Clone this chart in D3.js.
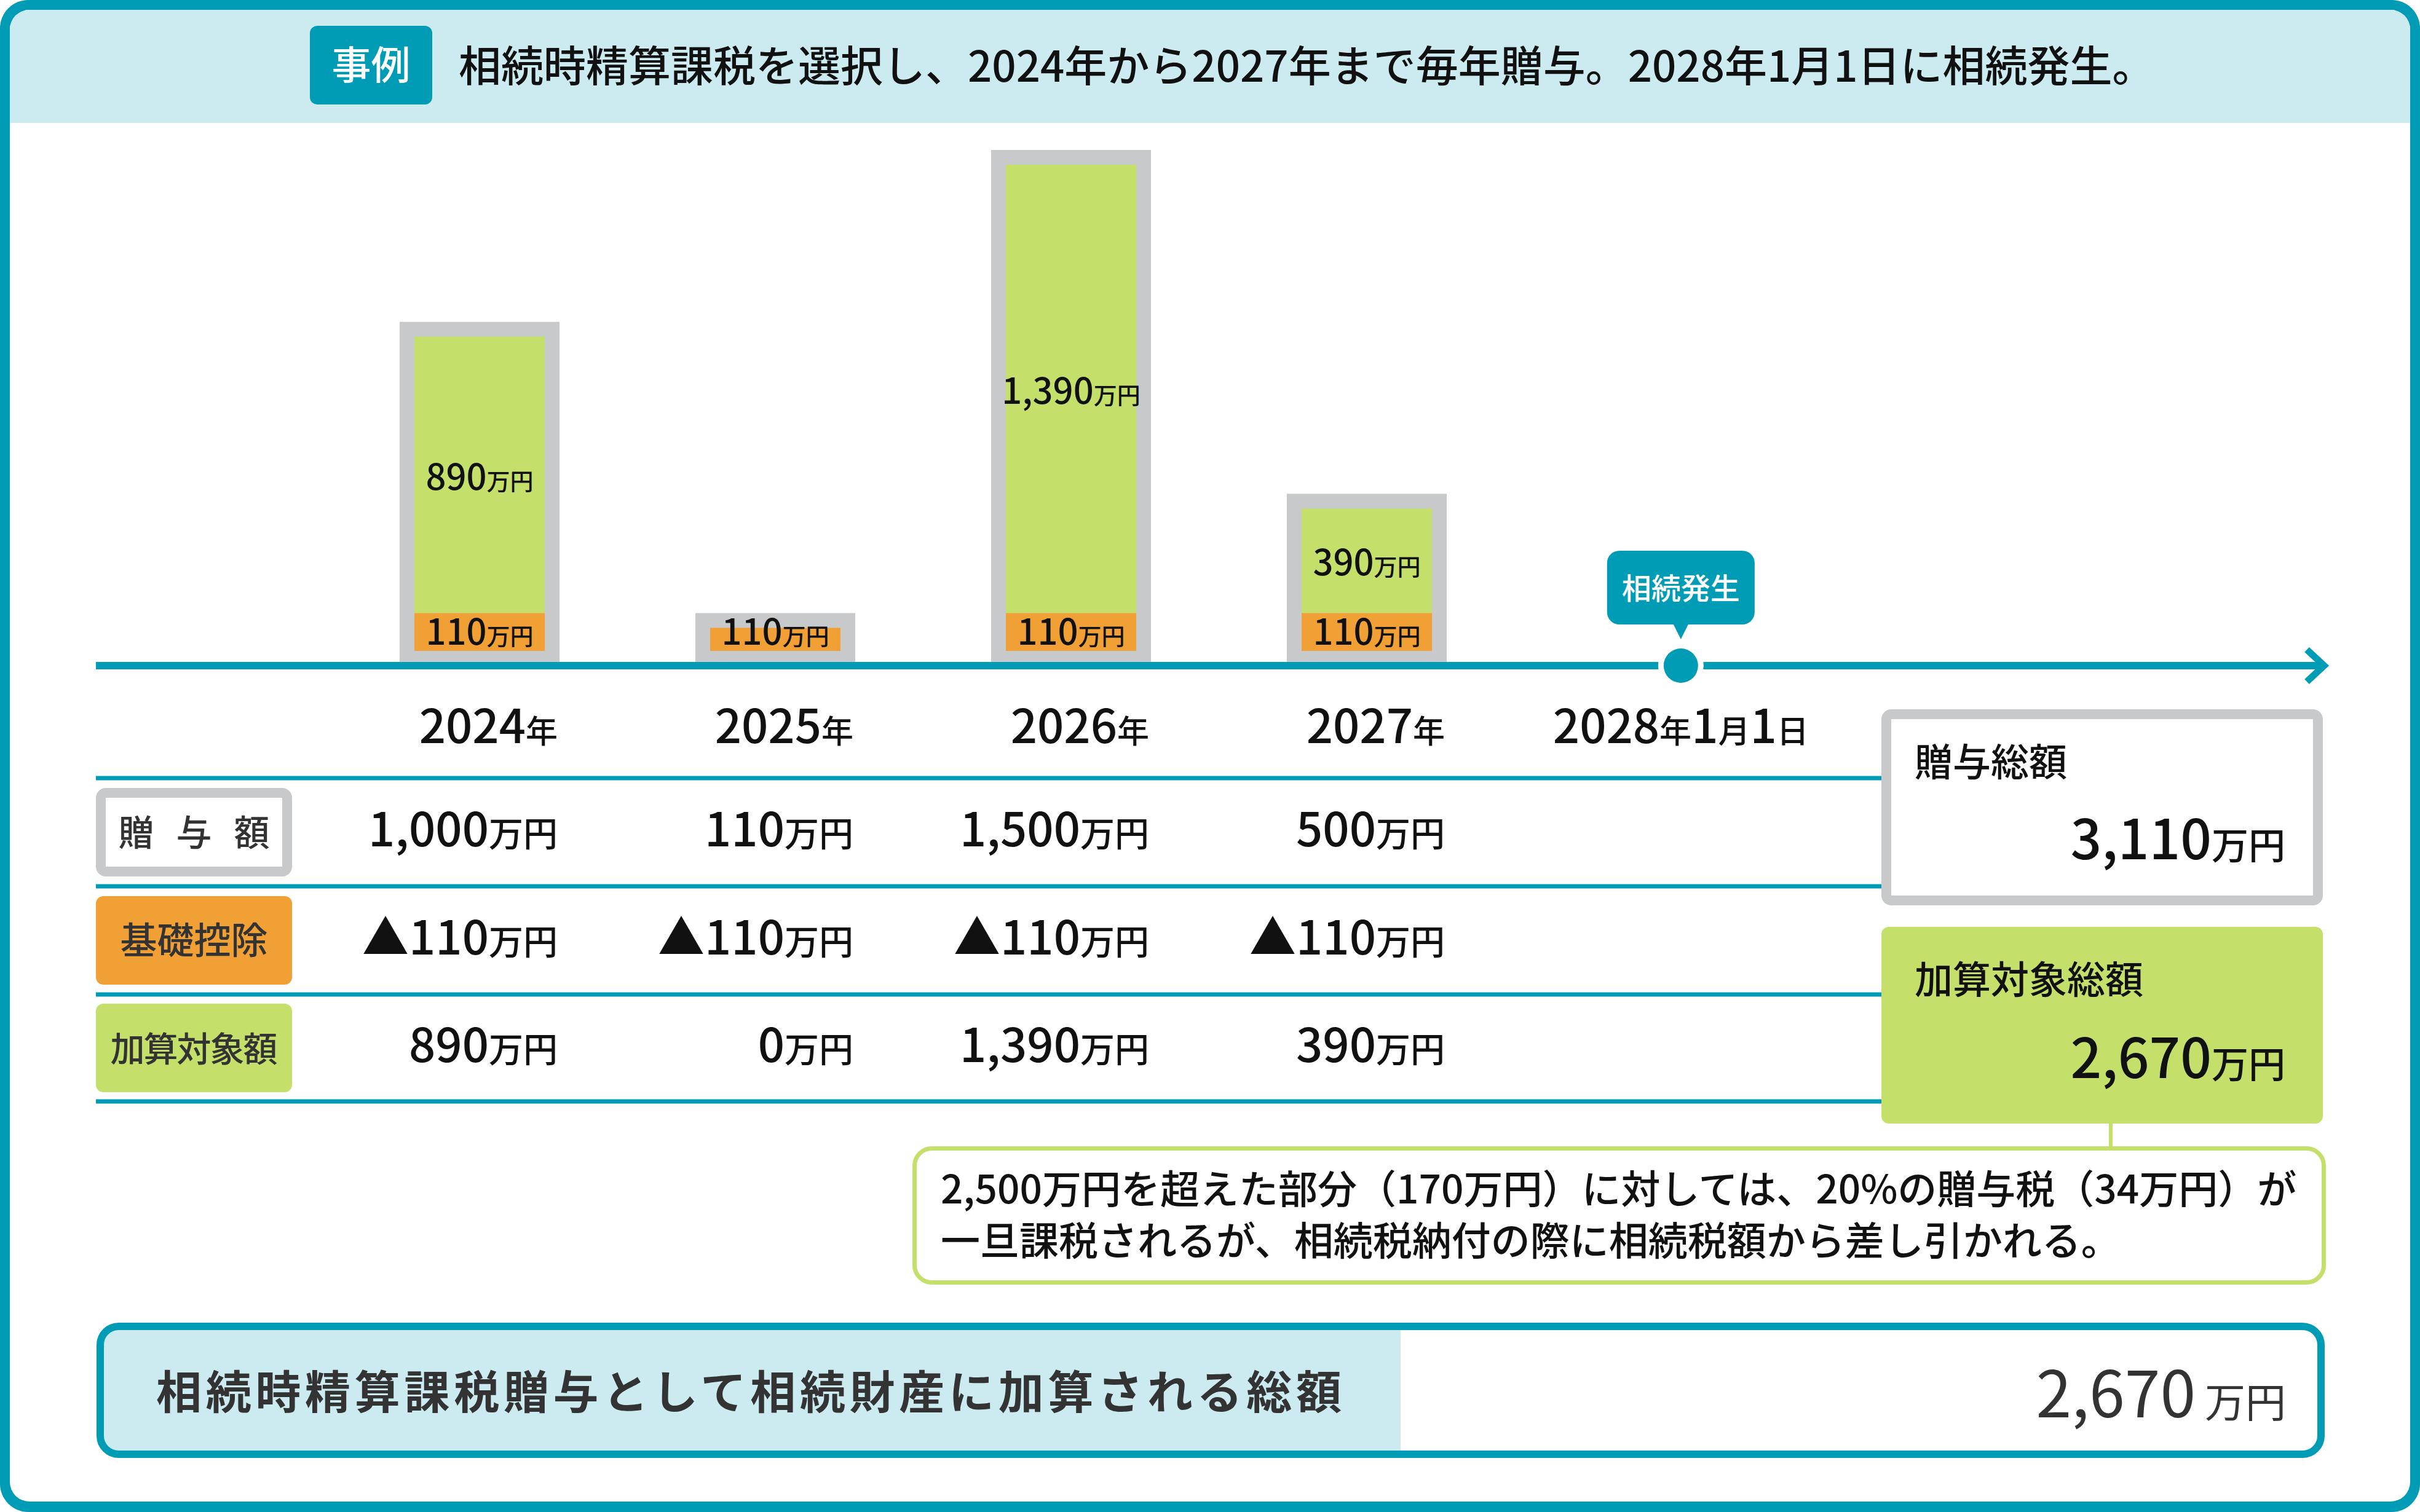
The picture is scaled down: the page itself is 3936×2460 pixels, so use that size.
<!DOCTYPE html>
<html><head><meta charset="utf-8">
<script src="https://cdn.jsdelivr.net/npm/d3@7"></script>
<style>html,body{margin:0;padding:0;background:#fff;} svg{display:block;}</style>
</head><body>
<script>
// ---- data ----
const yearKeys = ["2024", "2025", "2026", "2027"];
const yearSuffix = "年";
const giftAmounts = [1000, 110, 1500, 500];
const basicDeduction = [110, 110, 110, 110];
const addedAmounts = [890, 0, 1390, 390];
const eventLabel = "2028年1月1日";
const eventBadge = "相続発生";
const rowLabels = ["贈与額", "基礎控除", "加算対象額"];
const titleBadge = "事例";
const titleText = "相続時精算課税を選択し、2024年から2027年まで毎年贈与。2028年1月1日に相続発生。";
const summaryLabels = ["贈与総額", "加算対象総額"];
const noteLines = [
  "2,500万円を超えた部分（170万円）に対しては、20%の贈与税（34万円）が",
  "一旦課税されるが、相続税納付の際に相続税額から差し引かれる。"
];
const bottomLabel = "相続時精算課税贈与として相続財産に加算される総額";
const unit = "万円";

// ---- style ----
const W = 3936, H = 2460;
const C = {teal: "#009bb5", light: "#cbebf0", gray: "#c8c9ca", green: "#c4e06a",
           orange: "#f1a035", dark: "#333333", black: "#111111"};
const FONT = "'Noto Sans CJK JP','Noto Sans JP','Noto Sans',sans-serif";
const fmt = d3.format(",");

const svg = d3.select("body").append("svg").attr("width", W).attr("height", H)
  .style("font-family", FONT);
const defs = svg.append("defs");

// rich text: digits/commas/▲ big, others small
function rich(g, x, y, str, big, small, opts = {}) {
  const t = g.append("text").attr("x", x).attr("y", y)
    .attr("text-anchor", opts.anchor || "start")
    .attr("fill", opts.fill || C.black)
    .attr("font-weight", opts.weight || 500);
  const parts = str.split(/([0-9,▲%]+)/).filter(s => s.length);
  parts.forEach(p => {
    const isBig = /^[0-9,▲%]+$/.test(p);
    t.append("tspan").attr("font-size", isBig ? big : small).text(p);
  });
  return t;
}

// ---- frame ----
svg.append("rect").attr("x", 0).attr("y", 0).attr("width", W).attr("height", H)
  .attr("rx", 46).attr("fill", C.teal);
svg.append("rect").attr("x", 16).attr("y", 16).attr("width", W - 32).attr("height", H - 33)
  .attr("rx", 32).attr("fill", "#fff");
defs.append("clipPath").attr("id", "inner").append("rect")
  .attr("x", 16).attr("y", 16).attr("width", W - 32).attr("height", H - 33).attr("rx", 32);
svg.append("rect").attr("clip-path", "url(#inner)").attr("x", 0).attr("y", 0)
  .attr("width", W).attr("height", 200).attr("fill", C.light);

// header
svg.append("rect").attr("x", 504).attr("y", 42).attr("width", 199).attr("height", 128)
  .attr("rx", 12).attr("fill", C.teal);
svg.append("text").attr("x", 603.5).attr("y", 129).attr("text-anchor", "middle")
  .attr("font-size", 64).attr("font-weight", 500).attr("fill", "#fff").text(titleBadge);
svg.append("text").attr("x", 746).attr("y", 133).attr("font-size", 69)
  .attr("font-weight", 500).attr("fill", C.black).text(titleText);

// ---- scales ----
const xPos = d3.scalePoint().domain(yearKeys).range([780, 2223]);
const eventX = xPos(yearKeys[yearKeys.length - 1]) + xPos.step() * 1.062;
const yVal = d3.scaleLinear().domain([0, 1500]).range([1083, 244]);
const barW = 260, inset = 24;

const bars = yearKeys.map((k, i) => {
  const total = giftAmounts[i], basic = basicDeduction[i], added = addedAmounts[i];
  const grayTop = Math.min(yVal(total), yVal(basic) - inset);
  const orangeTop = Math.max(yVal(basic) - inset, grayTop + inset);
  const orangeBottom = yVal(0) - inset;
  return {k, i, total, basic, added, cx: xPos(k), grayTop, orangeTop, orangeBottom,
          greenTop: grayTop + inset, greenBottom: yVal(basic) - inset};
});

const gBars = svg.append("g");
gBars.selectAll(".gray").data(bars).join("rect")
  .attr("x", d => d.cx - barW / 2).attr("y", d => d.grayTop)
  .attr("width", barW).attr("height", d => yVal(0) - d.grayTop).attr("fill", C.gray);
gBars.selectAll(".green").data(bars.filter(d => d.added > 0)).join("rect")
  .attr("x", d => d.cx - barW / 2 + inset).attr("y", d => d.greenTop)
  .attr("width", barW - 2 * inset).attr("height", d => d.greenBottom - d.greenTop)
  .attr("fill", C.green);
gBars.selectAll(".orange").data(bars).join("rect")
  .attr("x", d => d.cx - barW / 2 + inset).attr("y", d => d.orangeTop)
  .attr("width", barW - 2 * inset).attr("height", d => d.orangeBottom - d.orangeTop)
  .attr("fill", C.orange);
bars.forEach(d => {
  const oc = (yVal(d.basic) - inset + d.orangeBottom) / 2;
  rich(gBars, d.cx, oc + 21, fmt(d.basic) + unit, 58, 38, {anchor: "middle"});
  if (d.added > 0) {
    const gc = (d.greenTop + d.greenBottom) / 2;
    rich(gBars, d.cx, gc + 24, fmt(d.added) + unit, 58, 38, {anchor: "middle"});
  }
});

// ---- timeline axis ----
const axisY = yVal(0);
svg.append("line").attr("x1", 156).attr("x2", 3776).attr("y1", axisY).attr("y2", axisY)
  .attr("stroke", C.teal).attr("stroke-width", 12);
svg.append("polyline").attr("points", `3752,${axisY - 26} 3780,${axisY} 3752,${axisY + 26}`)
  .attr("fill", "none").attr("stroke", C.teal).attr("stroke-width", 11)
  .attr("stroke-linejoin", "miter");
svg.append("circle").attr("cx", eventX).attr("cy", axisY).attr("r", 37).attr("fill", "#fff");
svg.append("circle").attr("cx", eventX).attr("cy", axisY).attr("r", 28).attr("fill", C.teal);
// bubble
svg.append("rect").attr("x", eventX - 120).attr("y", 896).attr("width", 240).attr("height", 120)
  .attr("rx", 20).attr("fill", C.teal);
svg.append("path").attr("d", `M${eventX - 14},1012 L${eventX + 14},1012 L${eventX},1040 Z`)
  .attr("fill", C.teal);
svg.append("text").attr("x", eventX).attr("y", 975).attr("text-anchor", "middle")
  .attr("font-size", 48).attr("font-weight", 500).attr("fill", "#fff").text(eventBadge);

// year labels
bars.forEach(d => rich(svg, d.cx + 127, 1209, d.k + yearSuffix, 76, 52, {anchor: "end"}));
rich(svg, eventX, 1209, eventLabel, 76, 52, {anchor: "middle"});

// ---- table ----
const rowLines = [1266, 1442, 1618, 1792];
svg.selectAll(".rowline").data(rowLines).join("line")
  .attr("x1", 156).attr("x2", 3060).attr("y1", d => d).attr("y2", d => d)
  .attr("stroke", C.teal).attr("stroke-width", 7);
const rowCenters = d3.pairs(rowLines).map(([a, b]) => (a + b) / 2);

// row label boxes
svg.append("rect").attr("x", 164).attr("y", rowCenters[0] - 64).attr("width", 303).attr("height", 128)
  .attr("rx", 8).attr("fill", "#fff").attr("stroke", C.gray).attr("stroke-width", 16);
svg.append("rect").attr("x", 156).attr("y", rowCenters[1] - 72).attr("width", 319).attr("height", 144)
  .attr("rx", 12).attr("fill", C.orange);
svg.append("rect").attr("x", 156).attr("y", rowCenters[2] - 72).attr("width", 319).attr("height", 144)
  .attr("rx", 12).attr("fill", C.green);
const labelStyles = [{size: 58, ls: 36}, {size: 60, ls: 0}, {size: 56, ls: -2}];
rowLabels.forEach((s, i) => {
  svg.append("text").attr("x", 315.5 + labelStyles[i].ls / 2).attr("y", rowCenters[i] + 22)
    .attr("text-anchor", "middle").attr("font-size", labelStyles[i].size)
    .attr("letter-spacing", labelStyles[i].ls).attr("font-weight", 500)
    .attr("fill", C.dark).text(s);
});

// row values
const rowValues = [
  giftAmounts.map(v => fmt(v) + unit),
  basicDeduction.map(v => "▲" + fmt(v) + unit),
  addedAmounts.map(v => fmt(v) + unit)
];
rowValues.forEach((vals, r) => {
  vals.forEach((s, i) => rich(svg, xPos(yearKeys[i]) + 127, rowCenters[r] + 23, s, 76, 56, {anchor: "end"}));
});

// ---- summary boxes ----
svg.append("rect").attr("x", 3068).attr("y", 1162).attr("width", 702).attr("height", 303)
  .attr("rx", 8).attr("fill", "#fff").attr("stroke", C.gray).attr("stroke-width", 16);
svg.append("text").attr("x", 3114).attr("y", 1263).attr("font-size", 62).attr("font-weight", 500)
  .attr("fill", C.black).text(summaryLabels[0]);
rich(svg, 3717, 1398, fmt(d3.sum(giftAmounts)) + unit, 89, 60, {anchor: "end"});

svg.append("rect").attr("x", 3060).attr("y", 1508).attr("width", 718).attr("height", 320)
  .attr("rx", 12).attr("fill", C.green);
svg.append("text").attr("x", 3114).attr("y", 1617).attr("font-size", 62).attr("font-weight", 500)
  .attr("fill", C.black).text(summaryLabels[1]);
rich(svg, 3717, 1754, fmt(d3.sum(addedAmounts)) + unit, 89, 60, {anchor: "end"});

// connector + note
svg.append("line").attr("x1", 3433).attr("x2", 3433).attr("y1", 1826).attr("y2", 1868)
  .attr("stroke", C.green).attr("stroke-width", 6);
svg.append("rect").attr("x", 1487.5).attr("y", 1868.5).attr("width", 2292).attr("height", 218)
  .attr("rx", 28).attr("fill", "#fff").attr("stroke", C.green).attr("stroke-width", 7);
noteLines.forEach((s, i) => {
  svg.append("text").attr("x", 1530).attr("y", 1958 + i * 84).attr("font-size", 64)
    .attr("font-weight", 500).attr("fill", C.black).text(s);
});

// ---- bottom total box ----
defs.append("clipPath").attr("id", "bottom").append("rect")
  .attr("x", 163).attr("y", 2158).attr("width", 3612).attr("height", 208).attr("rx", 30);
svg.append("rect").attr("x", 163).attr("y", 2158).attr("width", 3612).attr("height", 208)
  .attr("rx", 30).attr("fill", "#fff");
svg.append("rect").attr("clip-path", "url(#bottom)").attr("x", 163).attr("y", 2158)
  .attr("width", 2278 - 163).attr("height", 208).attr("fill", C.light);
svg.append("rect").attr("x", 163).attr("y", 2158).attr("width", 3612).attr("height", 208)
  .attr("rx", 30).attr("fill", "none").attr("stroke", C.teal).attr("stroke-width", 12);
svg.append("text").attr("x", 254).attr("y", 2292).attr("font-size", 74).attr("font-weight", 700)
  .attr("letter-spacing", 6.7).attr("fill", C.dark).text(bottomLabel);
rich(svg, 3718, 2306, fmt(d3.sum(addedAmounts)) + " " + unit, 104, 66, {anchor: "end", fill: C.dark, weight: 400});
</script>
</body></html>
